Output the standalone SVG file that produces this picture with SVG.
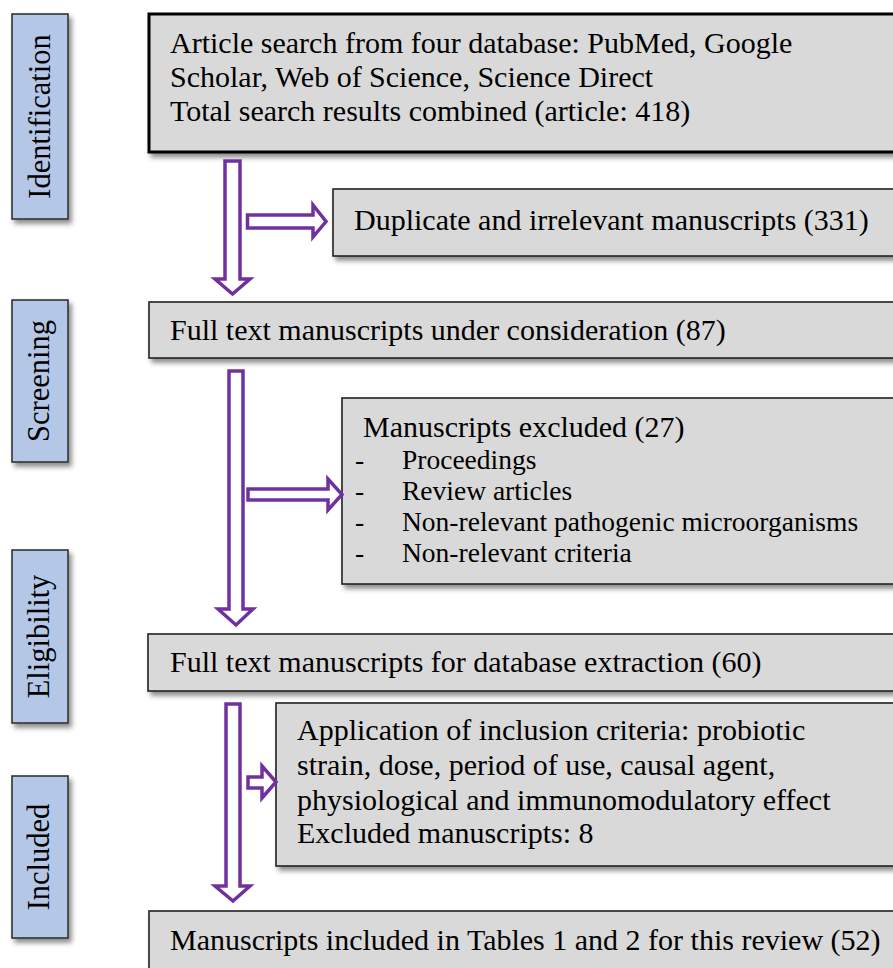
<svg xmlns="http://www.w3.org/2000/svg" width="893" height="968" viewBox="0 0 893 968">
<defs>
<filter id="sh" x="-10%" y="-10%" width="130%" height="140%">
<feDropShadow dx="3" dy="4" stdDeviation="2.5" flood-color="#000" flood-opacity="0.45"/>
</filter>
</defs>
<style>
.box{fill:#d9d9d9;stroke:#222;stroke-width:1.6;filter:url(#sh)}
.box1{fill:#d9d9d9;stroke:#000;stroke-width:3;filter:url(#sh)}
.side{fill:#b4c7e7;stroke:#333;stroke-width:1.6;filter:url(#sh)}
.t{font-family:"Liberation Serif","Times New Roman",serif;font-size:30px;fill:#000}
.li{font-family:"Liberation Serif","Times New Roman",serif;font-size:27.5px;fill:#000}
.st{font-family:"Liberation Serif","Times New Roman",serif;font-size:30.5px;fill:#000;text-anchor:middle}
.arr{fill:#fff;stroke:#7030a0;stroke-width:3.5;stroke-linejoin:miter}
</style>
<rect width="893" height="968" fill="#fff"/>

<g id="side-identification">
<rect class="side" x="12" y="14" width="56" height="205"/>
<text class="st" transform="translate(50,116.5) rotate(-90)">Identification</text>
</g>
<g id="side-screening">
<rect class="side" x="12" y="300" width="56" height="162"/>
<text class="st" transform="translate(49,381) rotate(-90)">Screening</text>
</g>
<g id="side-eligibility">
<rect class="side" x="12" y="550" width="56" height="173"/>
<text class="st" transform="translate(49,636.5) rotate(-90)">Eligibility</text>
</g>
<g id="side-included">
<rect class="side" x="12" y="776" width="56" height="162"/>
<text class="st" transform="translate(49,857) rotate(-90)">Included</text>
</g>

<g id="n-search">
<rect class="box1" x="149" y="14" width="760" height="138"/>
<text class="t" x="170" y="53">Article search from four database: PubMed, Google</text>
<text class="t" x="170" y="87">Scholar, Web of Science, Science Direct</text>
<text class="t" x="170" y="121">Total search results combined (article: 418)</text>
</g>
<g id="n-duplicate">
<rect class="box" x="333" y="189" width="580" height="67"/>
<text class="t" x="354" y="230">Duplicate and irrelevant manuscripts (331)</text>
</g>
<g id="n-fulltext">
<rect class="box" x="149" y="302" width="760" height="56"/>
<text class="t" x="170" y="340">Full text manuscripts under consideration (87)</text>
</g>
<g id="n-excluded">
<rect class="box" x="342" y="398" width="570" height="186"/>
<text class="t" x="363" y="437">Manuscripts excluded (27)</text>
<text class="li" x="355" y="469">-</text><text class="li" x="402" y="469">Proceedings</text>
<text class="li" x="355" y="500">-</text><text class="li" x="402" y="500">Review articles</text>
<text class="li" x="355" y="531">-</text><text class="li" x="402" y="531">Non-relevant pathogenic microorganisms</text>
<text class="li" x="355" y="562">-</text><text class="li" x="402" y="562">Non-relevant criteria</text>
</g>
<g id="n-extraction">
<rect class="box" x="148" y="634" width="762" height="57"/>
<text class="t" x="170" y="672">Full text manuscripts for database extraction (60)</text>
</g>
<g id="n-inclusion">
<rect class="box" x="276" y="703" width="635" height="163"/>
<text class="t" x="297" y="740">Application of inclusion criteria: probiotic</text>
<text class="t" x="297" y="775">strain, dose, period of use, causal agent,</text>
<text class="t" x="297" y="810">physiological and immunomodulatory effect</text>
<text class="t" x="297" y="843">Excluded manuscripts: 8</text>
</g>
<g id="n-included">
<rect class="box" x="149" y="911" width="760" height="90"/>
<text class="t" x="170" y="950">Manuscripts included in Tables 1 and 2 for this review (52)</text>
</g>

<g id="connectors">
<path class="arr" d="M225,161 H240 V279 H250 L232.5,294 L215,279 H225 Z"/>
<path class="arr" d="M247.5,215 H313 V205 L326,221.5 L313,237 V228 H247.5 Z"/>
<path class="arr" d="M229,371 H243 V609 H253 L236,625 L218,609 H229 Z"/>
<path class="arr" d="M248,489 H328 V479 L342,494.5 L328,510 V500 H248 Z"/>
<path class="arr" d="M226,704 H240 V886 H250 L233,901 L215,886 H226 Z"/>
<path class="arr" d="M248,777 H262 V766 L276,782 L262,798 V788 H248 Z"/>
</g>
</svg>
